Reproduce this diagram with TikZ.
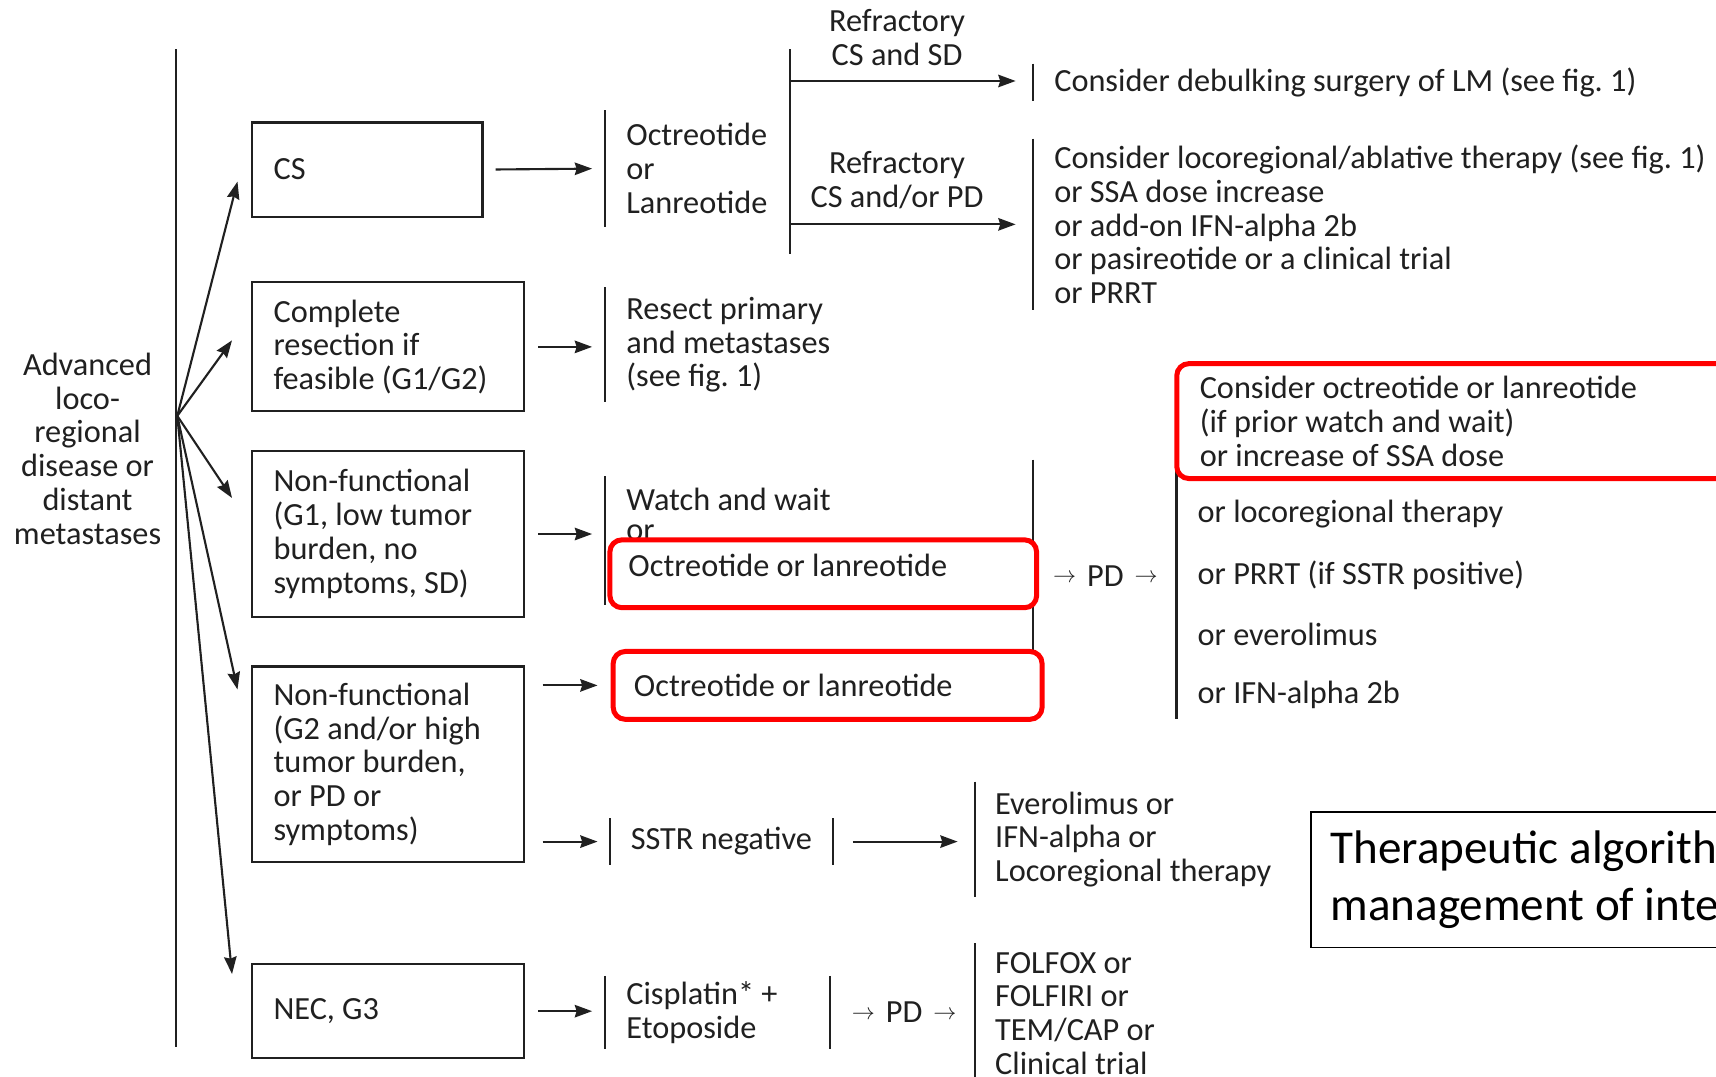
\documentclass[tikz,border=0pt]{standalone}
\usepackage{fontspec}
\setmainfont{Carlito}
\usetikzlibrary{positioning, arrows.meta, calc}
\definecolor{ink}{HTML}{202020}
\newcommand{\pdarrow}{\raisebox{1.8pt}{\fontsize{13pt}{13pt}\selectfont$\rightarrow$}}
\frenchspacing
\tikzset{
        >={Stealth[length=9pt, width=6.5pt, inset=1pt]}, % filled arrow heads
        every node/.style={font=\fontsize{16.8pt}{17.6pt}\selectfont, text=ink}, % text of the scan
        box/.style={draw=ink, line width=1.1pt, anchor=north west, align=flush left, inner xsep=0.4cm, inner ysep=0pt}, % framed groups
        bartext/.style={anchor=west, align=flush left, inner xsep=0.38cm, inner ysep=0pt}, % text with a bar on its left
        redbox/.style={draw=red, line width=2.6pt, rounded corners=0.22cm, fill=white, anchor=north west, align=flush left, inner ysep=0pt}, % highlights
        barline/.style={ink, line width=1.1pt},
        link/.style={->, ink, line width=1.1pt},
        }
\begin{document}
\begin{tikzpicture}[x=0.02cm, y=-0.02cm]
        % page frame, one unit is one pixel of the scan
        \useasboundingbox (0,0) rectangle (1568,984);
        \clip (0,0) rectangle (1568,984);
        \fill[white] (0,0) rectangle (1568,984);

        % left column
        \node[align=flush center] (adv) at (80,410) {Advanced\\loco-\\regional\\disease or\\distant\\metastases};
        \draw[barline] (161,45) -- (161,957);
        \coordinate (fan) at (162,380);

        % tumour groups
        \node[box, text width=3.42cm, minimum height=1.72cm] (cs) at (229,111) {CS};
        \node[box, text width=4.18cm, minimum height=2.36cm] (comp) at (229,257) {Complete\\resection if\\feasible (G1/G2)};
        \node[box, text width=4.18cm, minimum height=3.04cm] (nf1) at (229,411) {Non-functional\\(G1, low tumor\\burden, no\\symptoms, SD)};
        \node[box, text width=4.18cm, minimum height=3.58cm] (nf2) at (229,608) {Non-functional\\(G2 and/or high\\tumor burden,\\or PD or\\symptoms)};
        \node[box, text width=4.18cm, minimum height=1.72cm] (nec) at (229,880) {NEC, G3};

        \draw[link] (fan) -- ($(cs.west)+(-12,11)$);
        \draw[link] (fan) -- ($(comp.west)+(-17,-6)$);
        \draw[link] (fan) -- ($(nf1.north west)+(-17,44)$);
        \draw[link] (fan) -- ($(nf2.north west)+(-12,22)$);
        \draw[link] (fan) -- ($(nec.north west)+(-17,10)$);

        % first line therapy
        \node[bartext, minimum height=2.12cm] (oct) at (553,154) {Octreotide\\or\\Lanreotide};
        \node[bartext, minimum height=2.08cm] (res) at (553,315) {Resect primary\\and metastases\\(see fig. 1)};
        \node[bartext] (ww) at (553,470) {Watch and wait\\[-1.7pt]or};
        \draw[barline] (oct.north west) -- (oct.south west);
        \draw[barline] (res.north west) -- (res.south west);
        \draw[barline] (553,435) -- (553,553);
        \draw[barline] (944,420) -- (944,655);
        \node[redbox, text width=7.12cm, minimum height=1.24cm, text height=0.45cm, text depth=0.35cm, inner xsep=0.34cm] (rb1) at (555,491) {Octreotide or lanreotide};
        \node[redbox, text width=7.08cm, minimum height=1.24cm, inner xsep=0.38cm] (rb2) at (558,593) {Octreotide or lanreotide};

        \node[bartext, minimum height=0.84cm] (sstr) at (557,769) {SSTR negative};
        \draw[barline] (sstr.north west) -- (sstr.south west);
        \draw[barline] (sstr.north east) -- (sstr.south east);
        \node[bartext, minimum height=2.1cm, inner xsep=0.36cm] (evr) at (891,767) {Everolimus or\\IFN-alpha or\\Locoregional therapy};
        \draw[barline] (evr.north west) -- (evr.south west);

        \node[bartext, minimum height=1.32cm] (cis) at (553,925) {Cisplatin* +\\Etoposide};
        \node[bartext, minimum height=1.32cm, inner xsep=0.4cm] (pd2) at (758,925) {\pdarrow\hspace{0.2cm}PD\hspace{0.2cm}\pdarrow};
        \node[bartext, minimum height=2.56cm, inner xsep=0.36cm] (fol) at (891,926) {FOLFOX or\\FOLFIRI or\\TEM/CAP or\\Clinical trial};
        \draw[barline] (cis.north west) -- (cis.south west);
        \draw[barline] (pd2.north west) -- (pd2.south west);
        \draw[barline] (fol.north west) -- (fol.south west);

        \draw[link, shorten <=0.22cm, shorten >=0.24cm] (cs.east) -- (oct.west);
        \draw[link, shorten <=0.24cm, shorten >=0.24cm] (comp.east) -- (comp.east -| res.west);
        \draw[link, shorten <=0.24cm, shorten >=0.24cm] (nf1.east) -- (nf1.east -| ww.west);
        \draw[link, shorten <=0.32cm, shorten >=0.24cm] (nf2.east |- rb2.west) -- (rb2.west);
        \draw[link, shorten <=0.32cm, shorten >=0.22cm] (nf2.east |- sstr.west) -- (sstr.west);
        \draw[link, shorten <=0.36cm, shorten >=0.32cm] (sstr.east) -- (sstr.east -| evr.west);
        \draw[link, shorten <=0.24cm, shorten >=0.24cm] (nec.east) -- (nec.east -| cis.west);

        % refractory cases
        \draw[barline] (722,45) -- (722,232);
        \coordinate (fork1) at (722,74);
        \coordinate (fork2) at (722,205);
        \node[bartext, minimum height=0.66cm] (deb) at (944,75) {Consider debulking surgery of LM (see fig. 1)};
        \node[bartext, minimum height=3.12cm] (loco) at (944,205) {Consider locoregional/ablative therapy (see fig. 1)\\or SSA dose increase\\or add-on IFN-alpha 2b\\or pasireotide or a clinical trial\\or PRRT};
        \draw[barline] (deb.north west) -- (deb.south west);
        \draw[barline] (loco.north west) -- (loco.south west);
        \draw[link, shorten >=0.32cm] (fork1) -- node[pos=0.44, above=4pt, align=flush center] (lab1) {Refractory\\CS and SD} (fork1 -| deb.west);
        \draw[link, shorten >=0.32cm] (fork2) -- node[pos=0.44, above=4pt, align=flush center] (lab2) {Refractory\\CS and/or PD} (fork2 -| loco.west);

        % progressive disease
        \node (pd1) at (1010,526) {\pdarrow\hspace{0.2cm}PD\hspace{0.2cm}\pdarrow};
        \draw[barline] (1075,340) -- (1075,657);
        \node[redbox, text width=10cm, minimum height=2.1cm, inner xsep=0.42cm] (rb3) at (1073,330) {Consider octreotide or lanreotide\\(if prior watch and wait)\\or increase of SSA dose};
        \node[bartext] (rloc) at (1075,470) {or locoregional therapy};
        \node[bartext] (rprrt) at (1075,526) {or PRRT (if SSTR positive)};
        \node[bartext] (rever) at (1075,580) {or everolimus};
        \node[bartext] (rifn) at (1075,635) {or IFN-alpha 2b};

        % caption box, cut by the page edge
        \node[draw=black, line width=0.9pt, anchor=north west, align=flush left, text width=9cm, minimum height=2.48cm, inner xsep=0.36cm, font=\fontsize{24.5pt}{29.5pt}\selectfont, text=black] (title) at (1197,741) {Therapeutic algorith\\management of inte};
\end{tikzpicture}
\end{document}
